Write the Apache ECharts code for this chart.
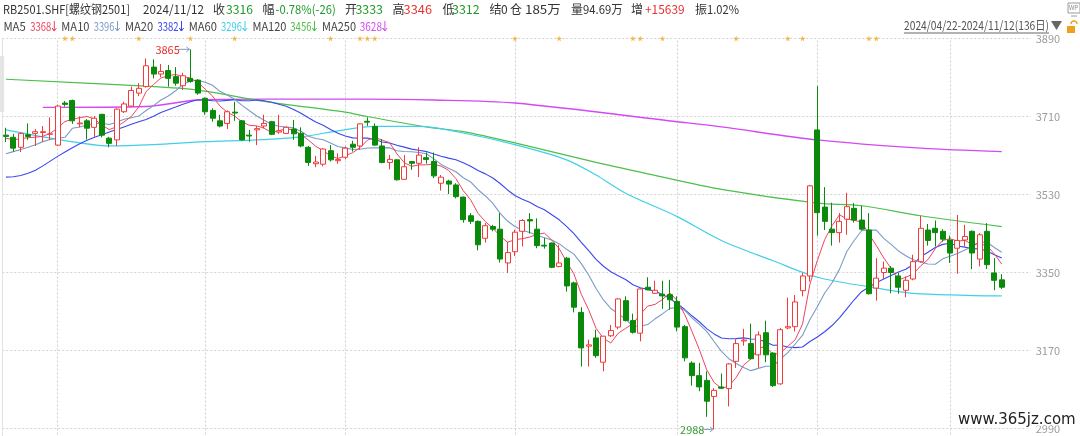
<!DOCTYPE html>
<html>
<head>
<meta charset="utf-8">
<script src="https://cdn.jsdelivr.net/npm/echarts@6/dist/echarts.min.js"></script>
<style>html,body{margin:0;padding:0;background:#fff;}#c{width:1080px;height:436px;}</style>
</head>
<body>
<div id="c"></div>
<script>
// ---------------- data ----------------
const dates = [
 '2024-04-22','2024-04-23','2024-04-24','2024-04-25','2024-04-26','2024-04-29','2024-04-30',
 '2024-05-06','2024-05-07','2024-05-08','2024-05-09','2024-05-10','2024-05-13','2024-05-14','2024-05-15','2024-05-16','2024-05-17',
 '2024-05-20','2024-05-21','2024-05-22','2024-05-23','2024-05-24','2024-05-27','2024-05-28','2024-05-29','2024-05-30','2024-05-31',
 '2024-06-03','2024-06-04','2024-06-05','2024-06-06','2024-06-07','2024-06-11','2024-06-12','2024-06-13','2024-06-14',
 '2024-06-17','2024-06-18','2024-06-19','2024-06-20','2024-06-21','2024-06-24','2024-06-25','2024-06-26','2024-06-27','2024-06-28',
 '2024-07-01','2024-07-02','2024-07-03','2024-07-04','2024-07-05','2024-07-08','2024-07-09','2024-07-10','2024-07-11','2024-07-12',
 '2024-07-15','2024-07-16','2024-07-17','2024-07-18','2024-07-19','2024-07-22','2024-07-23','2024-07-24','2024-07-25','2024-07-26',
 '2024-07-29','2024-07-30','2024-07-31',
 '2024-08-01','2024-08-02','2024-08-05','2024-08-06','2024-08-07','2024-08-08','2024-08-09','2024-08-12','2024-08-13','2024-08-14',
 '2024-08-15','2024-08-16','2024-08-19','2024-08-20','2024-08-21','2024-08-22','2024-08-23','2024-08-26','2024-08-27','2024-08-28',
 '2024-08-29','2024-08-30',
 '2024-09-02','2024-09-03','2024-09-04','2024-09-05','2024-09-06','2024-09-09','2024-09-10','2024-09-11','2024-09-12','2024-09-13',
 '2024-09-18','2024-09-19','2024-09-20','2024-09-23','2024-09-24','2024-09-25','2024-09-26','2024-09-27','2024-09-30',
 '2024-10-08','2024-10-09','2024-10-10','2024-10-11','2024-10-14','2024-10-15','2024-10-16','2024-10-17','2024-10-18',
 '2024-10-21','2024-10-22','2024-10-23','2024-10-24','2024-10-25','2024-10-28','2024-10-29','2024-10-30','2024-10-31',
 '2024-11-01','2024-11-04','2024-11-05','2024-11-06','2024-11-07','2024-11-08','2024-11-11','2024-11-12'
];

const opens = [
 3667,3662,3639,3668,3671,3673,3669,3644,3741,3747,
 3693,3700,3685,3715,3660,3656,3721,3734,3764,3779,
 3824,3808,3816,3802,3781,3798,3794,3752,3724,3700,
 3694,3720,3700,3667,3679,3688,3698,3674,3671,3681,
 3671,3639,3601,3600,3631,3608,3616,3646,3642,3699,
 3687,3642,3604,3610,3565,3606,3602,3615,3606,3556,
 3561,3552,3524,3481,3468,3429,3456,3450,3372,3398,
 3445,3472,3450,3413,3418,3364,3383,3326,3258,3180,
 3199,3143,3204,3224,3285,3239,3210,3316,3302,3300,
 3299,3283,3225,3141,3112,3101,3064,3086,3082,3145,
 3192,3186,3160,3211,3164,3093,3222,3225,3308,3342,
 3679,3501,3450,3442,3473,3498,3471,3448,3314,3350,
 3360,3342,3309,3335,3375,3448,3452,3445,3425,3406,
 3425,3445,3381,3445,3349,3333
];
const closes = [
 3664,3637,3671,3664,3675,3675,3670,3734,3738,3700,
 3695,3683,3706,3667,3648,3727,3739,3770,3775,3827,
 3808,3814,3798,3787,3804,3791,3764,3721,3706,3688,
 3721,3718,3656,3665,3682,3694,3669,3677,3685,3670,
 3642,3604,3605,3635,3610,3611,3637,3639,3693,3697,
 3644,3604,3611,3564,3594,3602,3621,3611,3573,3570,
 3554,3525,3472,3468,3414,3458,3450,3381,3396,3443,
 3470,3469,3412,3411,3362,3372,3319,3270,3176,3183,
 3158,3203,3216,3289,3239,3212,3312,3310,3309,3296,
 3287,3224,3153,3112,3086,3053,3078,3083,3139,3186,
 3194,3151,3206,3160,3089,3218,3225,3282,3342,3550,
 3488,3468,3442,3468,3502,3471,3450,3301,3337,3360,
 3350,3316,3332,3375,3452,3424,3442,3427,3395,3424,
 3433,3395,3437,3368,3332,3316
];
const lows = [
 3651,3629,3628,3656,3642,3652,3656,3642,3733,3693,
 3685,3657,3663,3662,3639,3642,3718,3733,3757,3777,
 3798,3801,3779,3781,3771,3788,3760,3714,3698,3685,
 3681,3700,3654,3652,3644,3683,3667,3670,3670,3656,
 3639,3596,3593,3595,3606,3601,3611,3629,3633,3688,
 3642,3602,3588,3562,3564,3587,3570,3601,3568,3539,
 3531,3521,3465,3462,3401,3419,3445,3373,3349,3388,
 3410,3440,3406,3405,3360,3362,3306,3258,3133,3133,
 3153,3122,3201,3219,3237,3209,3191,3309,3301,3266,
 3264,3214,3145,3089,3076,3017,2988,3081,3041,3130,
 3181,3149,3130,3143,3086,3091,3219,3214,3295,3329,
 3435,3448,3412,3419,3437,3465,3447,3299,3285,3335,
 3302,3301,3293,3332,3373,3412,3410,3421,3372,3347,
 3410,3358,3364,3358,3309,3312
];
const highs = [
 3684,3670,3673,3694,3681,3688,3708,3737,3746,3749,
 3710,3704,3711,3716,3663,3729,3744,3779,3787,3844,
 3842,3831,3829,3824,3811,3865,3796,3754,3729,3714,
 3724,3744,3702,3679,3688,3714,3700,3714,3687,3702,
 3685,3642,3619,3637,3644,3625,3641,3654,3694,3708,
 3694,3658,3621,3611,3621,3607,3639,3627,3627,3575,
 3564,3556,3525,3487,3470,3464,3460,3487,3421,3449,
 3473,3487,3475,3430,3419,3414,3386,3329,3270,3195,
 3218,3204,3229,3291,3295,3255,3314,3339,3331,3331,
 3333,3295,3229,3145,3141,3122,3083,3117,3141,3196,
 3220,3232,3214,3239,3166,3222,3292,3298,3349,3552,
 3780,3547,3511,3487,3534,3510,3504,3487,3383,3375,
 3365,3349,3341,3391,3481,3462,3470,3450,3435,3483,
 3460,3447,3441,3464,3383,3346
];

// moving-average values at the left edge (they reach back before the window)
const ma5Head  = [3660, 3656, 3659, 3661];
const ma10Head = [3624, 3629, 3634, 3639, 3645, 3652, 3657, 3660, 3662];
const ma20Head = [3570, 3571, 3574, 3579, 3586, 3596, 3607, 3618, 3628, 3638,
                  3647, 3655, 3662, 3668, 3674, 3680, 3686, 3692, 3698];
// long moving averages as [day index, value]
const ma60Points  = [[0,3679],[5,3663],[10,3649],[14,3642],[20,3645],[27,3652],[34,3656],[40,3663],[45,3677],[50,3687],
                     [56,3687],[62,3672],[69,3645],[76,3610],[80,3575],[84,3533],[91,3479],[97,3424],[104,3377],[110,3339],
                     [117,3317],[123,3302],[135,3296]];
const ma120Points = [[0,3796],[19,3780],[26,3771],[35,3745],[46,3720],[48,3713],[57,3686],[62,3675],[69,3649],[80,3604],
                     [88,3574],[97,3542],[110,3510],[116,3504],[124,3481],[135,3456]];
const ma250Points = [[5,3731],[19,3733],[26,3748],[35,3750],[48,3750],[58,3748],[69,3741],[91,3698],[97,3686],[110,3656],
                     [124,3637],[135,3629]];

const monthStarts = ['2024-05-06','2024-06-03','2024-07-01','2024-08-01','2024-09-02','2024-10-08','2024-11-01'];
const starDates = ['2024-05-07','2024-05-08','2024-05-21','2024-05-30','2024-06-07','2024-06-27','2024-07-03','2024-07-04',
                   '2024-07-05','2024-08-01','2024-08-09','2024-08-23','2024-08-26','2024-08-29','2024-09-12','2024-09-25',
                   '2024-09-27','2024-10-17','2024-10-18'];

const yTicks = {min: 2810, max: 3890, step: 180};

// header texts: [text, left x, right x (or null), colour key]
const headerLine1 = [
 ['RB2501.SHF[螺纹钢2501]', 3, 130, 'dark'], ['2024/11/12', 143, 204, 'dark'],
 ['收', 213, null, 'dark'], ['3316', 226, 253, 'down'],
 ['幅', 262.5, null, 'dark'], ['-0.78%(-26)', 275.5, 335.7, 'down'],
 ['开', 345, null, 'dark'], ['3333', 355.4, 383, 'down'],
 ['高', 392.5, null, 'dark'], ['3346', 403.6, 432, 'up'],
 ['低', 442.5, null, 'dark'], ['3312', 452, 479.7, 'down'],
 ['结', 489.5, null, 'dark'], ['0', 501, null, 'dark'],
 ['仓', 510, null, 'dark'], ['185万', 525, 560.7, 'dark'],
 ['量', 571, null, 'dark'], ['94.69万', 583, 622.6, 'dark'],
 ['增', 631, null, 'dark'], ['+15639', 645, 684.6, 'up'],
 ['振', 695, null, 'dark'], ['1.02%', 707, 739, 'dark']
];
// [label, label x, label right, value, value x, value right (incl. arrow), colour key]
const maLegend = [
 ['MA5', 3.4, 25.8, '3368', 30.3, 56.8, 'ma5'],
 ['MA10', 61.3, 89.5, '3396', 93.7, 120, 'ma10'],
 ['MA20', 125, 153.2, '3382', 157.4, 184, 'ma20'],
 ['MA60', 188.7, 217, '3296', 221, 247.5, 'ma60'],
 ['MA120', 252.4, 286.5, '3456', 290.3, 317, 'ma120'],
 ['MA250', 322, 356, '3628', 359.8, 387.4, 'ma250']
];
const rangeText = '2024/04/22-2024/11/12(136日)';

// ---------------- styling ----------------
const FONT = '"Noto Sans CJK SC","Noto Sans",sans-serif';
const COLORS = {
  dark:'#333333', up:'#e8302f', down:'#1f9a2a',
  ma5:'#ee4460', ma10:'#7c9bc8', ma20:'#3a48ee', ma60:'#40d0ea', ma120:'#4cbf4c', ma250:'#d24af2'
};

function movingAverage(values, n, head) {
  return values.map((v, i) => {
    if (i < n - 1) return head[i];
    let s = 0;
    for (let k = i - n + 1; k <= i; k++) s += values[k];
    return Math.round(s / n * 10) / 10;
  });
}
const ma5 = movingAverage(closes, 5, ma5Head);
const ma10 = movingAverage(closes, 10, ma10Head);
const ma20 = movingAverage(closes, 20, ma20Head);

const candleData = dates.map((d, i) => [opens[i], closes[i], lows[i], highs[i]]);

const chart = echarts.init(document.getElementById('c'), null, {renderer: 'canvas', width: 1080, height: 436});

const GRID = {top: 38.5, bottom: -70.5};
const lineSeries = (name, data, color, width, smooth) => ({
  name, type: 'line', xAxisIndex: 0, yAxisIndex: 0, data, showSymbol: false, symbol: 'none',
  smooth: smooth || false, lineStyle: {color, width}, silent: true, z: 3
});

chart.setOption({
  animation: false,
  backgroundColor: '#ffffff',
  grid: [
    {left: 2.3, right: 74.6, top: GRID.top, bottom: GRID.bottom, outerBoundsMode: 'none'},
    {left: 2.3, right: 49.3, top: GRID.top, bottom: GRID.bottom, outerBoundsMode: 'none'}
  ],
  xAxis: [
    {type: 'category', gridIndex: 0, data: dates, boundaryGap: true, show: false},
    {type: 'value', gridIndex: 1, min: 0, max: 1, show: false}
  ],
  yAxis: [
    {type: 'value', gridIndex: 0, min: yTicks.min, max: yTicks.max, interval: yTicks.step, show: false},
    {type: 'value', gridIndex: 1, position: 'right', min: yTicks.min, max: yTicks.max, interval: yTicks.step,
     axisLine: {show: true, lineStyle: {color: '#e2e2e2', width: 1}},
     axisTick: {show: false},
     axisLabel: {color: '#9c9c9c', fontSize: 11, margin: 5, fontFamily: FONT, formatter: v => String(v)},
     splitLine: {show: true, lineStyle: {color: '#d2d2d2', type: [2, 2], width: 1}}}
  ],
  series: [
    {type: 'candlestick', xAxisIndex: 0, yAxisIndex: 0, data: candleData, barWidth: 5.5, z: 4,
     itemStyle: {color: '#ffffff', color0: '#0a8a0a', borderColor: '#f23a3a', borderColor0: '#0a8a0a', borderWidth: 1},
     markLine: {silent: true, z: 1, symbol: ['none', 'none'], label: {show: false}, animation: false,
       lineStyle: {color: '#cfcfcf', type: [2, 2], width: 1},
       emphasis: {disabled: true},
       data: monthStarts.map(d => ({xAxis: d}))}},
    lineSeries('MA250', ma250Points, COLORS.ma250, 1.4, 0.3),
    lineSeries('MA120', ma120Points, COLORS.ma120, 1.2, 0.3),
    lineSeries('MA60', ma60Points, COLORS.ma60, 1.2, 0.3),
    lineSeries('MA20', ma20, COLORS.ma20, 1.1),
    lineSeries('MA10', ma10, COLORS.ma10, 1.1),
    lineSeries('MA5', ma5, COLORS.ma5, 1),
    {type: 'scatter', xAxisIndex: 0, yAxisIndex: 0, silent: true, z: 6,
     symbol: 'path://M50,0 L61,35 L98,35 L68,57 L79,91 L50,70 L21,91 L32,57 L2,35 L39,35 Z',
     symbolSize: 6, itemStyle: {color: '#f5a623'},
     data: starDates.map(d => [d, yTicks.max])}
  ]
});

// ---------------- annotations and header ----------------
const measureCtx = document.createElement('canvas').getContext('2d');
function textWidth(text, size, family) {
  measureCtx.font = size + 'px ' + family;
  return measureCtx.measureText(text).width;
}

let hiIdx = 0, loIdx = 0;
highs.forEach((h, i) => { if (h > highs[hiIdx]) hiIdx = i; });
lows.forEach((l, i) => { if (l < lows[loIdx]) loIdx = i; });
const hiPt = chart.convertToPixel({xAxisIndex: 0, yAxisIndex: 0}, [hiIdx, highs[hiIdx]]);
const loPt = chart.convertToPixel({xAxisIndex: 0, yAxisIndex: 0}, [loIdx, lows[loIdx]]);

// text element; when a right edge is given the text is squeezed/stretched horizontally to fit it
const txt = (text, x, y, fill, size, right, family) => {
  const fam = family || FONT;
  const el = {
    type: 'text', x, y, silent: true, z: 100,
    style: {text, fill, fontSize: size || 12, fontFamily: fam, verticalAlign: 'middle', align: 'left'}
  };
  if (right) {
    const w = textWidth(text, size || 12, fam);
    if (w > 0) el.scaleX = (right - x) / w;
  }
  return el;
};
const downArrow = (x, y, color) => ({
  type: 'polyline', silent: true, z: 100,
  shape: {points: [[x, y - 5], [x, y + 5], [x - 2.2, y + 2], [x, y + 5], [x + 2.2, y + 2]]},
  style: {stroke: color, lineWidth: 1, fill: null}
});

const g = [];
g.push({type: 'rect', shape: {x: 0, y: 56, width: 4, height: 56}, style: {fill: '#e6e6e6'}, silent: true});
headerLine1.forEach(([t, x, r, c]) => g.push(txt(t, x, 9, COLORS[c], 12, r)));
maLegend.forEach(([lab, x1, r1, val, x2, r2, c]) => {
  g.push(txt(lab, x1, 26, '#444444', 12, r1));
  g.push(txt(val, x2, 26, COLORS[c], 12, r2 - 5.5));
  g.push(downArrow(r2 - 2.5, 26, COLORS[c]));
});
g.push(txt(rangeText, 904, 25.5, '#555555', 12, 1049));
g.push({type: 'line', shape: {x1: 904, y1: 33, x2: 1049, y2: 33}, style: {stroke: '#666', lineWidth: 1}, silent: true});
g.push({type: 'polygon', shape: {points: [[1051, 21], [1062, 21], [1056.5, 30]]}, style: {fill: '#666'}, silent: true});
// lock icon
g.push({type: 'rect', shape: {x: 1067, y: 26, width: 8, height: 7}, style: {fill: '#f0a020'}, silent: true});
g.push({type: 'arc', shape: {cx: 1074, cy: 24, r: 3, startAngle: Math.PI, endAngle: 2 * Math.PI}, style: {stroke: '#f0a020', fill: null, lineWidth: 1.3}, silent: true});
// WP icon
g.push({type: 'rect', shape: {x: 1068, y: 3, width: 12, height: 10}, style: {fill: '#fff', stroke: '#9a9a9a', lineWidth: 1}, silent: true});
g.push(txt('WP', 1069, 8, '#888', 6));
g.push({type: 'line', shape: {x1: 1071, y1: 16, x2: 1077, y2: 16}, style: {stroke: '#9a9a9a', lineWidth: 1}, silent: true});

// high / low labels
g.push(txt(String(highs[hiIdx]), hiPt[0] - 35, hiPt[1], '#e8302f', 11));
g.push({type: 'polyline', shape: {points: [[hiPt[0] - 12, hiPt[1]], [hiPt[0] - 1, hiPt[1]]]}, style: {stroke: '#7f9bbf', lineWidth: 1}, silent: true, z: 100});
g.push({type: 'polyline', shape: {points: [[hiPt[0] - 4, hiPt[1] - 2.5], [hiPt[0] - 1, hiPt[1]], [hiPt[0] - 4, hiPt[1] + 2.5]]}, style: {stroke: '#7f9bbf', lineWidth: 1, fill: null}, silent: true, z: 100});
g.push(txt(String(lows[loIdx]), loPt[0] - 34, loPt[1], '#3a9a3a', 11));
g.push({type: 'polyline', shape: {points: [[loPt[0] - 11, loPt[1]], [loPt[0] - 1, loPt[1]]]}, style: {stroke: '#7f9bbf', lineWidth: 1}, silent: true, z: 100});
g.push({type: 'polyline', shape: {points: [[loPt[0] - 4, loPt[1] - 2.5], [loPt[0] - 1, loPt[1]], [loPt[0] - 4, loPt[1] + 2.5]]}, style: {stroke: '#7f9bbf', lineWidth: 1, fill: null}, silent: true, z: 100});

// watermark
g.push({type: 'text', x: 958, y: 420, silent: true, z: 100,
  style: {text: 'www.365jz.com', fill: '#222', fontSize: 15, fontFamily: '"DejaVu Sans",sans-serif',
          verticalAlign: 'middle', align: 'left', stroke: '#ffffff', lineWidth: 3}});

chart.setOption({graphic: g});
</script>
</body>
</html>
